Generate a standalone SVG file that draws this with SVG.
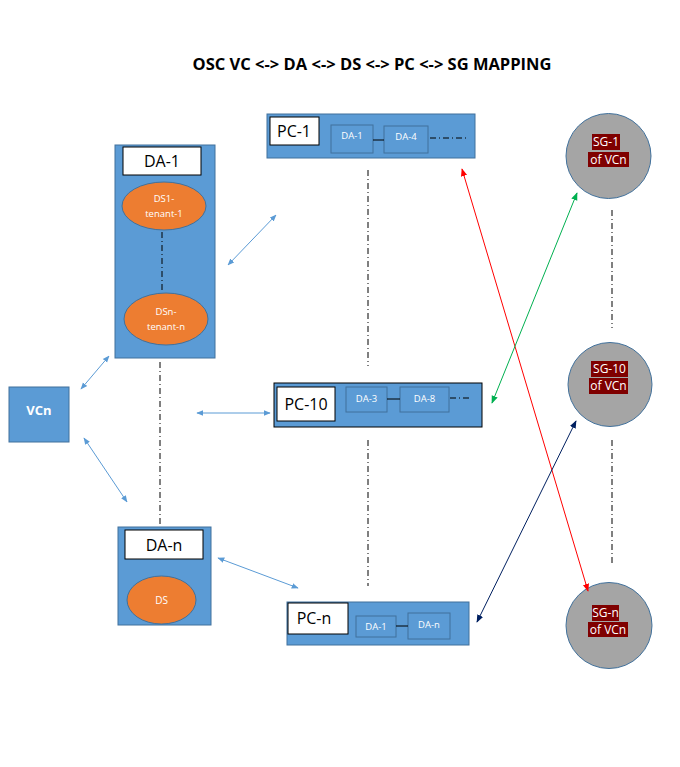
<svg xmlns="http://www.w3.org/2000/svg" width="680" height="767" viewBox="0 0 680 767">
<defs>
<style>
text{font-family:"Open Sans","Liberation Sans",sans-serif}
.box{fill:#5B9BD5;stroke:#41719C;stroke-width:1}
.lbl{fill:#fff;stroke:#000;stroke-width:1}
.inner{fill:#5B9BD5;stroke:#41719C;stroke-width:1}
.ell{fill:#ED7D31;stroke:#41719C;stroke-width:1}
.sg{fill:#A5A5A5;stroke:#41719C;stroke-width:1}
.sgbg{fill:#7F0000}
.dd{stroke:#000;stroke-width:1;stroke-dasharray:6 3 1 3;fill:none}
.big{font-size:16px;fill:#000;text-anchor:middle}
.sm{font-size:9.5px;fill:#fff;text-anchor:middle}
.wt{font-size:10px;fill:#fff;text-anchor:middle}
.sgt{font-size:12px;fill:#fff;text-anchor:middle}
.ab{stroke:#5B9BD5;stroke-width:1;fill:none;marker-start:url(#mb);marker-end:url(#mb)}
</style>
<marker id="mb" viewBox="0 0 10 10" refX="9" refY="5" markerWidth="7" markerHeight="7" markerUnits="userSpaceOnUse" orient="auto-start-reverse"><path d="M0,1 L10,5 L0,9 z" fill="#5B9BD5"/></marker>
<marker id="mr" viewBox="0 0 10 10" refX="9" refY="5" markerWidth="8" markerHeight="8" markerUnits="userSpaceOnUse" orient="auto-start-reverse"><path d="M0,1 L10,5 L0,9 z" fill="#FF0000"/></marker>
<marker id="mg" viewBox="0 0 10 10" refX="9" refY="5" markerWidth="8" markerHeight="8" markerUnits="userSpaceOnUse" orient="auto-start-reverse"><path d="M0,1 L10,5 L0,9 z" fill="#00B050"/></marker>
<marker id="mn" viewBox="0 0 10 10" refX="9" refY="5" markerWidth="8" markerHeight="8" markerUnits="userSpaceOnUse" orient="auto-start-reverse"><path d="M0,1 L10,5 L0,9 z" fill="#002060"/></marker>
</defs>
<rect width="680" height="767" fill="#fff"/>
<text x="372" y="70" font-size="16.5" font-weight="bold" text-anchor="middle" fill="#000">OSC VC &lt;-&gt; DA &lt;-&gt; DS &lt;-&gt; PC &lt;-&gt; SG MAPPING</text>

<g id="DA-1">
<rect class="box" x="115" y="145" width="100" height="213"/>
<rect class="lbl" x="123" y="147" width="78" height="28"/>
<text class="big" x="162" y="167">DA-1</text>
<ellipse class="ell" cx="164" cy="206" rx="42" ry="24"/>
<text class="sm" x="164" y="202">DS1-</text>
<text class="sm" x="164" y="217">tenant-1</text>
<line class="dd" x1="162" y1="232" x2="162" y2="292"/>
<ellipse class="ell" cx="166" cy="319" rx="42" ry="26"/>
<text class="sm" x="166" y="315">DSn-</text>
<text class="sm" x="166" y="330">tenant-n</text>
</g>

<g id="DA-n">
<rect class="box" x="118" y="527" width="93" height="98"/>
<rect class="lbl" x="125" y="530" width="78" height="29"/>
<text class="big" x="164" y="551">DA-n</text>
<ellipse class="ell" cx="161.5" cy="600" rx="34.5" ry="24"/>
<text class="wt" x="161.5" y="604">DS</text>
</g>

<g id="VCn">
<rect class="box" x="9" y="387" width="60" height="55"/>
<text x="39" y="415" font-size="13" font-weight="bold" fill="#fff" text-anchor="middle">VCn</text>
</g>

<g id="PC-1">
<rect class="box" x="267" y="114" width="208" height="44"/>
<rect class="lbl" x="270" y="117" width="49" height="28"/>
<text class="big" x="294" y="137">PC-1</text>
<rect class="inner" x="331" y="125" width="42" height="28"/>
<text class="sm" x="352" y="139">DA-1</text>
<rect class="inner" x="384" y="126" width="44" height="27"/>
<text class="sm" x="406" y="140">DA-4</text>
<line x1="373" y1="140" x2="384" y2="140" stroke="#000"/>
<line class="dd" x1="430" y1="138" x2="466" y2="138"/>
</g>

<g id="PC-10">
<rect x="274" y="383" width="208" height="44" fill="#5B9BD5" stroke="#000"/>
<rect class="lbl" x="277" y="387" width="58" height="34"/>
<text class="big" x="306" y="410">PC-10</text>
<rect class="inner" x="346" y="387" width="41" height="25"/>
<text class="sm" x="366.5" y="402">DA-3</text>
<rect class="inner" x="400" y="387" width="49" height="25"/>
<text class="sm" x="424.5" y="402">DA-8</text>
<line x1="387" y1="399" x2="400" y2="399" stroke="#000"/>
<line class="dd" x1="450" y1="398" x2="472" y2="398"/>
</g>

<g id="PC-n">
<rect class="box" x="287" y="602" width="182" height="43"/>
<rect class="lbl" x="288" y="603" width="60" height="31"/>
<text class="big" x="314" y="624">PC-n</text>
<rect class="inner" x="356" y="616" width="40" height="21"/>
<text class="sm" x="376" y="630">DA-1</text>
<rect class="inner" x="408" y="613" width="42" height="26"/>
<text class="sm" x="429" y="628">DA-n</text>
<line x1="396" y1="626" x2="408" y2="626" stroke="#000"/>
</g>

<g id="SG-1">
<circle class="sg" cx="608.5" cy="156" r="42.5"/>
<rect class="sgbg" x="592" y="134" width="28" height="16"/>
<rect class="sgbg" x="588" y="152" width="41" height="15"/>
<text class="sgt" x="606" y="146">SG-1</text>
<text class="sgt" x="608.5" y="164">of VCn</text>
</g>

<g id="SG-10">
<circle class="sg" cx="610" cy="384.5" r="42"/>
<rect class="sgbg" x="591" y="361" width="37" height="16"/>
<rect class="sgbg" x="589" y="378" width="39" height="16"/>
<text class="sgt" x="609.5" y="373">SG-10</text>
<text class="sgt" x="608.5" y="390">of VCn</text>
</g>

<g id="SG-n">
<circle class="sg" cx="609" cy="625.5" r="43"/>
<rect class="sgbg" x="592" y="605" width="27" height="16"/>
<rect class="sgbg" x="588" y="622" width="40" height="15"/>
<text class="sgt" x="605.5" y="617">SG-n</text>
<text class="sgt" x="608" y="634">of VCn</text>
</g>

<g id="connectors">
<line class="dd" x1="160" y1="362" x2="160" y2="525"/>
<line class="dd" x1="368" y1="170" x2="368" y2="366"/>
<line class="dd" x1="368" y1="440" x2="368" y2="586"/>
<line class="dd" x1="612" y1="210" x2="612" y2="328"/>
<line class="dd" x1="612" y1="440" x2="612" y2="566"/>
<line class="ab" x1="81" y1="389" x2="109" y2="356"/>
<line class="ab" x1="84" y1="438" x2="127" y2="502"/>
<line class="ab" x1="228" y1="265" x2="276" y2="215"/>
<line class="ab" x1="197" y1="413" x2="270" y2="413"/>
<line class="ab" x1="218" y1="558" x2="298" y2="588"/>
<line x1="462" y1="169" x2="588" y2="591" stroke="#FF0000" stroke-width="1" marker-start="url(#mr)" marker-end="url(#mr)"/>
<line x1="492" y1="403" x2="577" y2="193" stroke="#00B050" stroke-width="1" marker-start="url(#mg)" marker-end="url(#mg)"/>
<line x1="477" y1="622" x2="576" y2="421" stroke="#002060" stroke-width="1" marker-start="url(#mn)" marker-end="url(#mn)"/>
</g>
</svg>
